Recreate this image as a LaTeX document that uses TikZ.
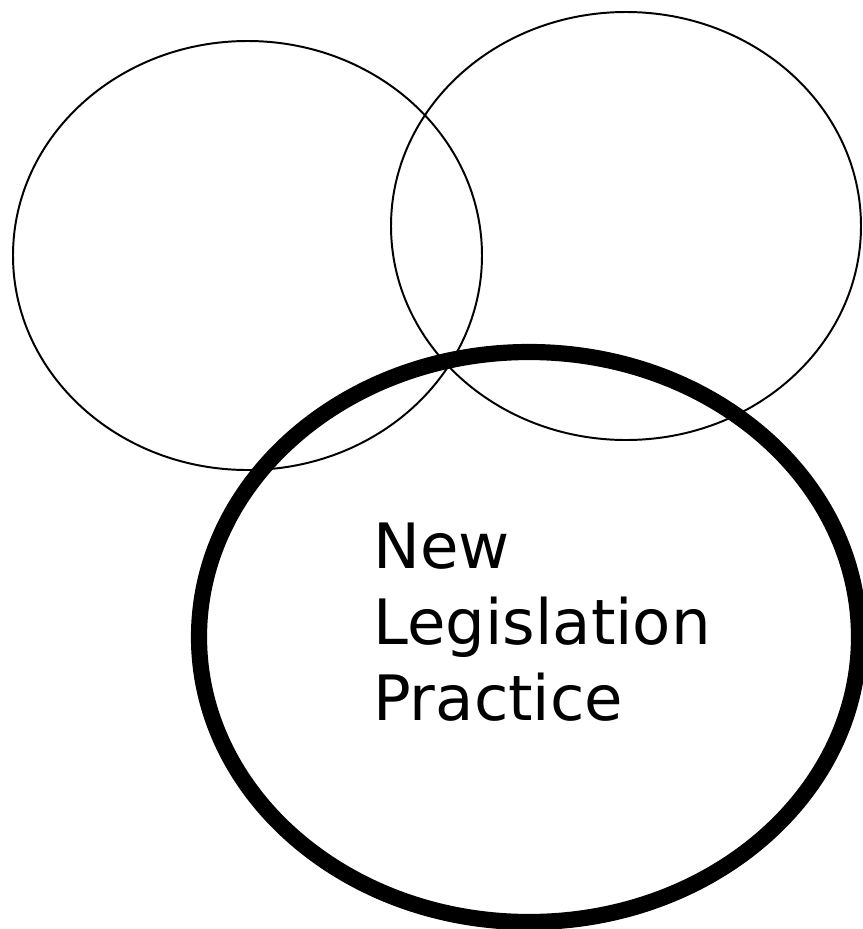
\documentclass[tikz,border=0pt]{standalone}
\usepackage{fontspec}
\setmainfont{DejaVu Sans}
\usepackage{tikz}
\usetikzlibrary{calc,positioning}

\begin{document}
\begin{tikzpicture}[x=0.025cm, y=-0.025cm]

\tikzset{
thin1/.style={draw=black,line width=1.4pt},
thick1/.style={draw=black,line width=11.5pt},
lab/.style={align=left,inner sep=0pt,anchor=base west,font=\fontsize{44.5}{54}\selectfont}
}

\useasboundingbox (0,0) rectangle (863,929);

% Nodes
\node (circ1) at (247.5,255.5) {};
\node (circ2) at (626,226) {};
\node (circ3) at (529,637) {};

% Circles
\draw[thin1] (circ1.center) ellipse [x radius=234.5, y radius=214.5];
\draw[thin1] (circ2.center) ellipse [x radius=235, y radius=214];
\draw[thick1] (circ3.center) ellipse [x radius=330, y radius=285];

% Labels
\node[lab] (lab1) at (373,720) {New\\Legislation\\Practice};

\end{tikzpicture}
\end{document}
